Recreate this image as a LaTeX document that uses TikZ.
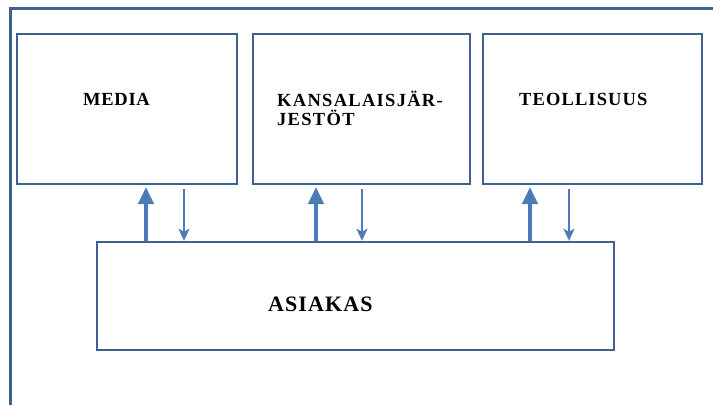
\documentclass[tikz,border=0pt]{standalone}
\usepackage{fontspec}
\setmainfont{Liberation Serif}
\usetikzlibrary{arrows.meta}
\definecolor{frameblue}{HTML}{3F6190}
\definecolor{arrowblue}{HTML}{4C7BB7}
\begin{document}
\begin{tikzpicture}[x=1pt,y=-1pt,
  box/.style={draw=frameblue,line width=2.4pt,rectangle,inner sep=0pt},
  lbl/.style={anchor=base west,inner sep=0pt,font=\bfseries\fontsize{18.5}{19}\selectfont\addfontfeature{LetterSpace=4}},
  bigflow/.style={draw=arrowblue,line width=4pt,-{Triangle[width=15pt,length=17pt]}},
  smallflow/.style={draw=arrowblue,line width=2.2pt,-{Stealth[width=11pt,length=12pt,inset=3pt]}}]
\useasboundingbox (0,0) rectangle (713,405);
% outer frame (top and left edges)
\draw[frameblue,line width=2.6pt] (10.5,405) -- (10.5,8.5) -- (713,8.5);
% stakeholder boxes
\node[box,minimum width=220pt,minimum height=150pt] (media) at (127,109) {};
\node[box,minimum width=217pt,minimum height=150pt] (jarj) at (361.5,109) {};
\node[box,minimum width=219pt,minimum height=150pt] (teol) at (592.5,109) {};
\node[box,minimum width=517pt,minimum height=108pt] (asiakas) at (355.5,296) {};
% labels
\node[lbl] (tmedia) at (83,105) {MEDIA};
\node[lbl,align=left,font=\bfseries\fontsize{18.5}{19}\selectfont\addfontfeature{LetterSpace=7}] (tjarj) at (277,125) {KANSALAISJÄR-\\JESTÖT};
\node[lbl,font=\bfseries\fontsize{18.5}{19}\selectfont\addfontfeature{LetterSpace=6}] (tteol) at (519,105) {TEOLLISUUS};
\node[lbl,font=\bfseries\fontsize{22}{24}\selectfont\addfontfeature{LetterSpace=5}] (tasiakas) at (268,311) {ASIAKAS};
% flow anchors
\coordinate (u1) at (146,187);
\coordinate (d1) at (184,189);
\coordinate (u2) at (316,187);
\coordinate (d2) at (362,189);
\coordinate (u3) at (530,187);
\coordinate (d3) at (569,189);
% flows between customer and stakeholders
\draw[bigflow] (asiakas.north -| u1) -- (u1);
\draw[smallflow] (d1) -- (asiakas.north -| d1);
\draw[bigflow] (asiakas.north -| u2) -- (u2);
\draw[smallflow] (d2) -- (asiakas.north -| d2);
\draw[bigflow] (asiakas.north -| u3) -- (u3);
\draw[smallflow] (d3) -- (asiakas.north -| d3);
\end{tikzpicture}
\end{document}
